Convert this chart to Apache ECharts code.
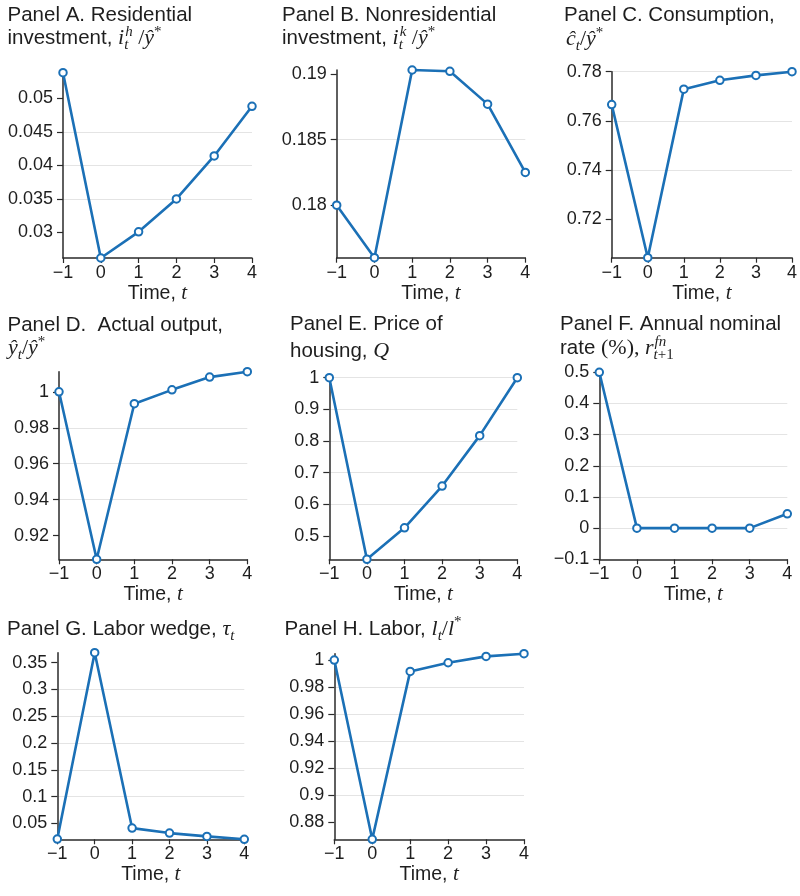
<!DOCTYPE html>
<html><head><meta charset="utf-8">
<script src="https://cdn.jsdelivr.net/npm/echarts@6/dist/echarts.min.js"></script>
<style>html,body{margin:0;padding:0;background:#fff}#c{width:800px;height:896px}</style>
</head><body><div id="c"></div>
<script>
// ---- data ----
const times = [-1, 0, 1, 2, 3, 4];
const residentialInvestment = [0.0538, 0.0262, 0.0301, 0.0350, 0.0414, 0.0488];
const nonresidentialInvestment = [0.1800, 0.1760, 0.1903, 0.1902, 0.1877, 0.1825];
const consumption = [0.7666, 0.7043, 0.7729, 0.7765, 0.7785, 0.7800];
const actualOutput = [1.0000, 0.9068, 0.9934, 1.0011, 1.0082, 1.0112];
const housingPrice = [1.0000, 0.4263, 0.5256, 0.6577, 0.8170, 1.0000];
const nominalRate = [0.5000, 0.0000, 0.0000, 0.0000, 0.0000, 0.0460];
const laborWedge = [0.0209, 0.3687, 0.0414, 0.0321, 0.0259, 0.0205];
const labor = [1.0000, 0.8674, 0.9916, 0.9980, 1.0027, 1.0047];

const xTicks = [-1, 0, 1, 2, 3, 4];
const yTicksA = [0.03, 0.035, 0.04, 0.045, 0.05];
const yTicksB = [0.18, 0.185, 0.19];
const yTicksC = [0.72, 0.74, 0.76, 0.78];
const yTicksD = [0.92, 0.94, 0.96, 0.98, 1];
const yTicksE = [0.5, 0.6, 0.7, 0.8, 0.9, 1];
const yTicksF = [-0.1, 0, 0.1, 0.2, 0.3, 0.4, 0.5];
const yTicksG = [0.05, 0.1, 0.15, 0.2, 0.25, 0.3, 0.35];
const yTicksH = [0.88, 0.9, 0.92, 0.94, 0.96, 0.98, 1];
const xAxisTitle = ['Time, ', 't'];

// ---- layout / style ----
const BLUE = '#1b70b6';
const TXT = '#1e1e1e';
const SANS = '"Liberation Sans", Arial, Helvetica, sans-serif';
const SERIF = '"Liberation Serif", "Times New Roman", serif';

const panels = [
  { data: residentialInvestment, ticks: yTicksA, step: 0.005, grid: [63, 72.7, 189, 185.3], maxLine: false },
  { data: nonresidentialInvestment, ticks: yTicksB, step: 0.005, grid: [336.7, 70, 188.6, 187.7], maxLine: false },
  { data: consumption, ticks: yTicksC, step: 0.02, grid: [611.7, 71.7, 187.6, 186], maxLine: true },
  { data: actualOutput, ticks: yTicksD, step: 0.02, grid: [59, 371.7, 188.3, 187.6], maxLine: false },
  { data: housingPrice, ticks: yTicksE, step: 0.1, grid: [329.3, 377.7, 188, 181.6], maxLine: true },
  { data: nominalRate, ticks: yTicksF, step: 0.1, grid: [599.3, 372.3, 188, 187], maxLine: false, min: -0.1, max: 0.5 },
  { data: laborWedge, ticks: yTicksG, step: 0.05, grid: [57.3, 652.7, 187, 186.6], maxLine: false },
  { data: labor, ticks: yTicksH, step: 0.02, grid: [334.3, 653.7, 189.7, 185.6], maxLine: false }
];

function fmt(v) {
  let s = String(+(+v).toFixed(4));
  return s.replace('-', '\u2212');
}

const grids = [], xAxes = [], yAxes = [], series = [];
panels.forEach((p, i) => {
  grids.push({ left: p.grid[0], top: p.grid[1], width: p.grid[2], height: p.grid[3], containLabel: false });
  xAxes.push({
    type: 'value', gridIndex: i, min: -1, max: 4, interval: 1,
    axisLine: { onZero: false, lineStyle: { color: '#2a2a2a', width: 1.5 } },
    axisTick: { show: true, length: 5, lineStyle: { color: '#2a2a2a', width: 1.2 } },
    axisLabel: { customValues: xTicks, formatter: fmt, color: TXT, fontFamily: SANS, fontSize: 18, margin: 6 },
    splitLine: { show: false },
    name: '{a|' + xAxisTitle[0] + '}{b|' + xAxisTitle[1] + '}',
    nameLocation: 'middle', nameGap: 25,
    nameTextStyle: {
      rich: {
        a: { fontFamily: SANS, fontSize: 19.5, color: TXT },
        b: { fontFamily: SERIF, fontStyle: 'italic', fontSize: 21, color: TXT }
      }
    }
  });
  yAxes.push({
    type: 'value', gridIndex: i,
    min: p.min !== undefined ? p.min : (v => v.min),
    max: p.max !== undefined ? p.max : (v => v.max),
    minInterval: p.step, maxInterval: p.step,
    axisLine: { show: true, onZero: false, lineStyle: { color: '#2a2a2a', width: 1.5 } },
    axisTick: { show: true, customValues: p.ticks, length: 6, lineStyle: { color: '#2a2a2a', width: 1.2 } },
    axisLabel: { customValues: p.ticks, formatter: fmt, color: TXT, fontFamily: SANS, fontSize: 18, margin: 10 },
    splitLine: { show: true, showMinLine: false, showMaxLine: p.maxLine, lineStyle: { color: '#e4e4e4', width: 1.2 } }
  });
  series.push({
    type: 'line', xAxisIndex: i, yAxisIndex: i,
    data: times.map((t, k) => [t, p.data[k]]),
    symbol: 'emptyCircle', symbolSize: 7.5, clip: false,
    lineStyle: { color: BLUE, width: 2.6 },
    itemStyle: { color: BLUE, borderColor: BLUE, borderWidth: 2.6 },
    z: 5
  });
});

// ---- titles (text with math sub/superscripts) ----
const mctx = document.createElement('canvas').getContext('2d');
function tw(font, text) { mctx.font = font; return mctx.measureText(text).width; }
const ST = {
  s: { fam: SANS, size: 20.5, style: 'normal', dy: 0 },
  r: { fam: SERIF, size: 22, style: 'normal', dy: 0 },
  i: { fam: SERIF, size: 22, style: 'italic', dy: 0 },
  sup: { fam: SERIF, size: 15, style: 'italic', dy: -9 },
  supr: { fam: SERIF, size: 15, style: 'normal', dy: -9 },
  sub: { fam: SERIF, size: 15, style: 'italic', dy: 4.5 },
  subr: { fam: SERIF, size: 15, style: 'normal', dy: 4.5 }
};
const graphics = [];
function line(x, baseline, parts) {
  let cx = x, stackStart = null, stackW = 0;
  parts.forEach(pt => {
    const st = ST[pt[0]];
    const font = st.style + ' ' + st.size + 'px ' + st.fam;
    const w = tw(font, pt[1]);
    graphics.push({
      type: 'text', x: cx + (pt[3] || 0), y: baseline + st.dy - 0.35 * st.size, silent: true,
      style: { text: pt[1], font: font, fill: TXT, align: 'left', verticalAlign: 'middle' }
    });
    if (pt[2] === 'stack') { stackStart = cx; stackW = w + (pt[3] || 0); }
    else if (pt[2] === 'end') { cx = Math.max(cx + w, stackStart + stackW); stackStart = null; }
    else { cx += w; }
  });
}
// Panel A
line(7.5, 23, [['s', 'Panel A. Residential']]);
line(7.5, 46, [['s', 'investment, '], ['i', 'i'], ['sup', 'h', 'stack', 1], ['sub', 't', 'end'], ['r', ' /'], ['i', 'ŷ'], ['supr', '*']]);
// Panel B
line(282, 23, [['s', 'Panel B. Nonresidential']]);
line(282, 46, [['s', 'investment, '], ['i', 'i'], ['sup', 'k', 'stack', 1], ['sub', 't', 'end'], ['r', ' /'], ['i', 'ŷ'], ['supr', '*']]);
// Panel C
line(564, 23, [['s', 'Panel C. Consumption,']]);
line(566, 47, [['i', 'ĉ'], ['sub', 't'], ['r', '/'], ['i', 'ŷ'], ['supr', '*']]);
// Panel D
line(7.5, 333, [['s', 'Panel D.  Actual output,']]);
line(8, 356, [['i', 'ŷ'], ['sub', 't'], ['r', '/'], ['i', 'ŷ'], ['supr', '*']]);
// Panel E
line(290, 331.5, [['s', 'Panel E. Price of']]);
line(290, 359, [['s', 'housing, '], ['i', 'Q']]);
// Panel F
line(560, 331.5, [['s', 'Panel F. Annual nominal']]);
line(560, 356, [['s', 'rate '], ['r', '(%), '], ['i', 'r'], ['sup', 'fn', 'stack', 1], ['sub', 't'], ['subr', '+1', 'end']]);
// Panel G
line(7, 636.5, [['s', 'Panel G. Labor wedge, '], ['i', 'τ'], ['sub', 't']]);
// Panel H
line(284.5, 636.5, [['s', 'Panel H. Labor, '], ['i', 'l'], ['sub', 't'], ['r', '/'], ['i', 'l'], ['supr', '*']]);

const chart = echarts.init(document.getElementById('c'), null, { renderer: 'canvas' });
chart.setOption({
  animation: false,
  backgroundColor: '#ffffff',
  textStyle: { fontFamily: SANS },
  grid: grids, xAxis: xAxes, yAxis: yAxes, series: series,
  graphic: graphics
});
</script>
</body></html>
